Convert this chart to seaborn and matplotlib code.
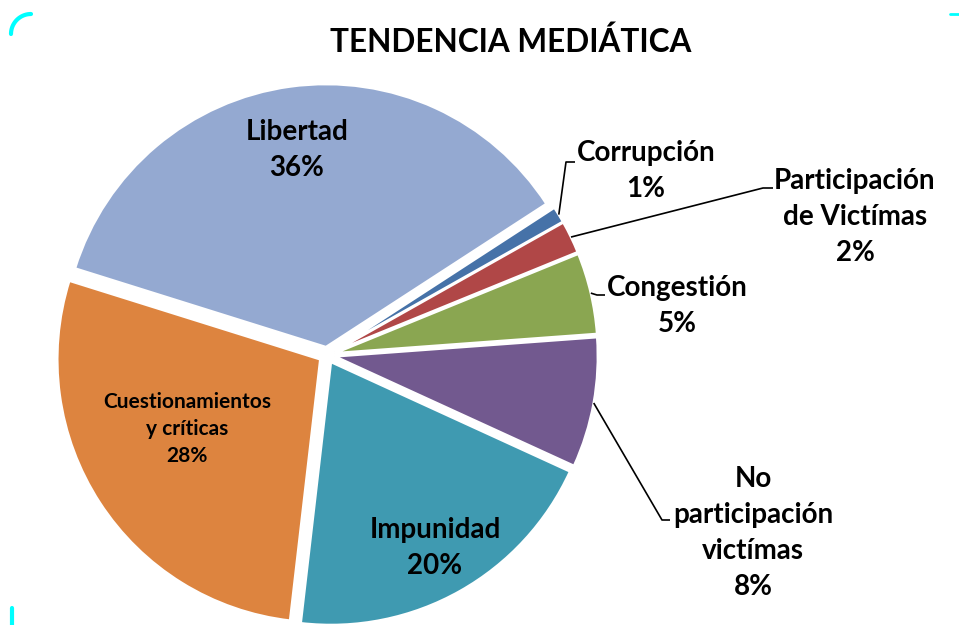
import numpy as np
import matplotlib
matplotlib.use("Agg")
import matplotlib.pyplot as plt
import seaborn as sns

# ---- data ----
categories = ["Corrupción", "Participación\nde Victímas", "Congestión",
              "No\nparticipación\nvictímas", "Impunidad",
              "Cuestionamientos\ny críticas", "Libertad"]
values = [1, 2, 5, 8, 20, 28, 36]
colors = ["#4672A8", "#B04747", "#8AA651", "#72598F", "#3F9AB1", "#DD843F", "#94A9D1"]
title = "TENDENCIA MEDIÁTICA"

sns.set_theme(style="white")
plt.rcParams["font.family"] = ["Lato", "DejaVu Sans"]

W, H = 959, 625
fig = plt.figure(figsize=(W / 100, H / 100), dpi=100)
ax = fig.add_axes([0, 0, 1, 1])

cx, cy = 327, H - 355
R = 263
offset = 8  # explode distance in pixels
start = 33
wedges, _ = ax.pie(values, colors=colors, startangle=start, counterclock=False,
                   center=(cx, cy), radius=R,
                   wedgeprops=dict(edgecolor="white", linewidth=1.8), frame=True)
for w in wedges:
    mid = np.deg2rad((w.theta1 + w.theta2) / 2)
    w.set_center((cx + offset * np.cos(mid), cy + offset * np.sin(mid)))

ax.set_xlim(0, W)
ax.set_ylim(0, H)
ax.set_aspect("equal")
ax.axis("off")

def img(x, y):
    return x, H - y

labels = [f"{c}\n{v}%" for c, v in zip(categories, values)]

# inside labels: index -> (x, y, size, linespacing)
inside = {6: (297, 150, 20, 1.49), 4: (435, 548, 20, 1.49), 5: (187, 429, 15, 1.46)}
for i, (x, y, fs, ls) in inside.items():
    ax.text(*img(x, y), labels[i], ha="center", va="center", fontsize=fs,
            fontweight="bold", color="black", linespacing=ls)

# outside labels with leader lines: index -> (text x, text y, elbow x, elbow y, stub end x)
outside = {0: (646, 171, 566, 162, 575),
           1: (855, 217, 763, 188, 773),
           2: (677, 306, 597, 295, 605),
           3: (753, 533, 662, 520, 670)}
for i, (tx, ty, ex, ey, sx) in outside.items():
    w = wedges[i]
    mid = np.deg2rad((w.theta1 + w.theta2) / 2)
    d = np.array([np.cos(mid), np.sin(mid)])
    p = np.array(w.center) + R * d
    ax.plot([p[0], ex, sx], [p[1], H - ey, H - ey], color="black", lw=1.2,
            solid_capstyle="butt")
    ax.text(*img(tx, ty), labels[i], ha="center", va="center", fontsize=20,
            fontweight="bold", color="black", linespacing=1.49)

ax.text(*img(511, 42), title, ha="center", va="center", fontsize=22.7,
        fontweight="bold", color="black")

# decorative cyan corners of the chart frame
t = np.linspace(np.pi / 2, np.pi, 20)
ax.plot(31 + 20 * np.cos(t), H - (34 - 20 * np.sin(t)), color="cyan", lw=3)
ax.plot([12, 12], [H - 608, 0], color="cyan", lw=3)
ax.plot([950, W], [H - 14, H - 14], color="cyan", lw=2)

fig.savefig("out.png", dpi=100, facecolor="white")
